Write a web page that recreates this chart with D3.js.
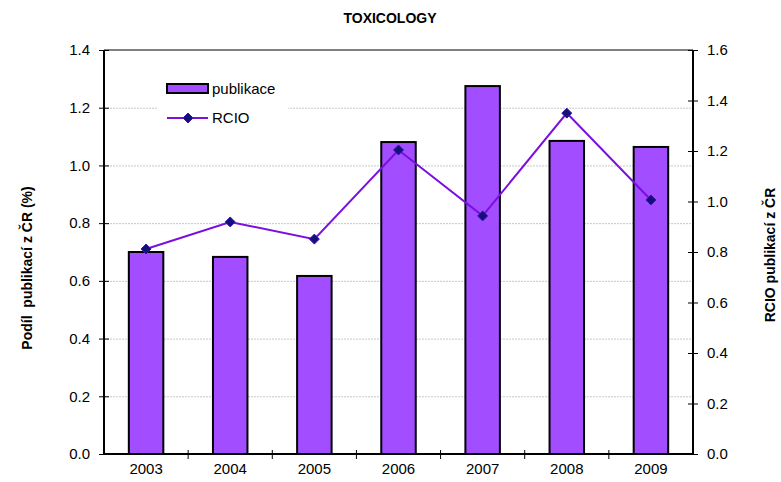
<!DOCTYPE html>
<html>
<head>
<meta charset="utf-8">
<script src="https://cdn.jsdelivr.net/npm/d3@7"></script>
<style>
  body { margin: 0; background: #fff; }
  svg { font-family: "Liberation Sans", Arial, sans-serif; }
  text { white-space: pre; }
</style>
</head>
<body>
<svg id="chart" width="781" height="482"></svg>
<script>
const years = ["2003", "2004", "2005", "2006", "2007", "2008", "2009"];
const podil = [0.700, 0.683, 0.617, 1.081, 1.275, 1.085, 1.064];
const rcio = [0.812, 0.919, 0.851, 1.204, 0.943, 1.350, 1.006];
const leftTicks = [0, 0.2, 0.4, 0.6, 0.8, 1.0, 1.2, 1.4];
const rightTicks = [0, 0.2, 0.4, 0.6, 0.8, 1.0, 1.2, 1.4, 1.6];

const margin = { top: 50, right: 88, bottom: 28, left: 104 };
const W = 781, H = 482;
const FONT = "Liberation Sans, Arial, sans-serif";
const svg = d3.select("#chart");

const x = d3.scaleBand()
    .domain(years)
    .range([margin.left, W - margin.right])
    .paddingInner(0.59)
    .paddingOuter(0.295);

const band = d3.scaleBand().domain(years).range([margin.left, W - margin.right]);

const yL = d3.scaleLinear().domain([0, 1.4]).range([H - margin.bottom, margin.top]);
const yR = d3.scaleLinear().domain([0, 1.6]).range([H - margin.bottom, margin.top]);

// grid
svg.append("g")
    .selectAll("line")
    .data(leftTicks.slice(1, -1))
    .join("line")
    .attr("x1", margin.left)
    .attr("x2", W - margin.right)
    .attr("y1", d => yL(d) + 0.5)
    .attr("y2", d => yL(d) + 0.5)
    .attr("stroke", "#c8c8c8")
    .attr("stroke-width", 1)
    .attr("stroke-dasharray", "2,1");

// top border
svg.append("line")
    .attr("x1", margin.left).attr("x2", W - margin.right)
    .attr("y1", margin.top).attr("y2", margin.top)
    .attr("stroke", "#808080").attr("stroke-width", 2);

// legend background (covers grid)
svg.append("rect")
    .attr("x", 158).attr("y", 68).attr("width", 130).attr("height", 64)
    .attr("fill", "#fff");

// bars
svg.append("g")
    .selectAll("rect")
    .data(years)
    .join("rect")
    .attr("x", d => x(d))
    .attr("y", (d, i) => yL(podil[i]))
    .attr("width", x.bandwidth())
    .attr("height", (d, i) => yL(0) - yL(podil[i]))
    .attr("fill", "#a24dff")
    .attr("stroke", "#000")
    .attr("stroke-width", 2);

// line
const line = d3.line()
    .x((d, i) => band(years[i]) + band.bandwidth() / 2)
    .y(d => yR(d));

svg.append("path")
    .datum(rcio)
    .attr("d", line)
    .attr("fill", "none")
    .attr("stroke", "#7a0fe0")
    .attr("stroke-width", 2);

// square diamond marker
const diamond = "M0,-5L5,0L0,5L-5,0Z";
svg.append("g")
    .selectAll("path")
    .data(rcio)
    .join("path")
    .attr("d", diamond)
    .attr("transform", (d, i) => `translate(${band(years[i]) + band.bandwidth() / 2},${yR(d)})`)
    .attr("fill", "#14107a")
    .attr("stroke", "#3a14b0")
    .attr("stroke-width", 1);

// axes
const axL = svg.append("g")
    .attr("transform", `translate(${margin.left},0)`)
    .call(d3.axisLeft(yL).tickValues(leftTicks).tickFormat(d3.format(".1f")).tickSize(5));
axL.selectAll(".tick line").attr("x2", 5).attr("x1", -5);
axL.select(".domain").attr("d", `M0,${yL(0)}V${yL(1.4)}`).attr("stroke-width", 2);
axL.selectAll(".tick text").attr("x", -14).attr("font-size", 15).attr("font-family", FONT).attr("fill", "#000");

const axR = svg.append("g")
    .attr("transform", `translate(${W - margin.right},0)`)
    .call(d3.axisRight(yR).tickValues(rightTicks).tickFormat(d3.format(".1f")).tickSize(5));
axR.selectAll(".tick line").attr("x1", -5).attr("x2", 5);
axR.select(".domain").attr("d", `M0,${yR(0)}V${yR(1.6)}`).attr("stroke-width", 2);
axR.selectAll(".tick text").attr("x", 14).attr("font-size", 15).attr("font-family", FONT).attr("fill", "#000");

const axB = svg.append("g")
    .attr("transform", `translate(0,${H - margin.bottom})`)
    .call(d3.axisBottom(band).tickSize(0));
axB.select(".domain").attr("d", `M${margin.left},0H${W - margin.right}`).attr("stroke-width", 2);
axB.selectAll(".tick text").attr("y", 9).attr("dy", "0.71em").attr("font-size", 15).attr("font-family", FONT).attr("fill", "#000");
axB.append("g")
    .selectAll("line")
    .data(years.slice(1))
    .join("line")
    .attr("x1", d => band(d)).attr("x2", d => band(d))
    .attr("y1", -4).attr("y2", 5)
    .attr("stroke", "#000");

// title
svg.append("text")
    .attr("x", 390).attr("y", 23)
    .attr("text-anchor", "middle")
    .attr("font-size", 14).attr("font-weight", "bold")
    .text("TOXICOLOGY");

svg.append("text")
    .attr("transform", `translate(32,268) rotate(-90)`)
    .attr("text-anchor", "middle")
    .attr("font-size", 14).attr("font-weight", "bold")
    .text("Podíl  publikací z ČR (%)");

svg.append("text")
    .attr("transform", `translate(775,255) rotate(-90)`)
    .attr("text-anchor", "middle")
    .attr("font-size", 14).attr("font-weight", "bold")
    .text("RCIO publikací z ČR");

// legend
const lg = svg.append("g");
lg.append("rect")
    .attr("x", 167).attr("y", 84).attr("width", 41).attr("height", 9)
    .attr("fill", "#a24dff").attr("stroke", "#000").attr("stroke-width", 2);
lg.append("text").attr("x", 212).attr("y", 94).attr("font-size", 15).text("publikace");
lg.append("line")
    .attr("x1", 167).attr("x2", 208).attr("y1", 118).attr("y2", 118)
    .attr("stroke", "#7a0fe0").attr("stroke-width", 2);
lg.append("path")
    .attr("d", diamond)
    .attr("transform", "translate(188,118)")
    .attr("fill", "#14107a").attr("stroke", "#3a14b0");
lg.append("text").attr("x", 212).attr("y", 123).attr("font-size", 15).text("RCIO");
</script>
</body>
</html>
